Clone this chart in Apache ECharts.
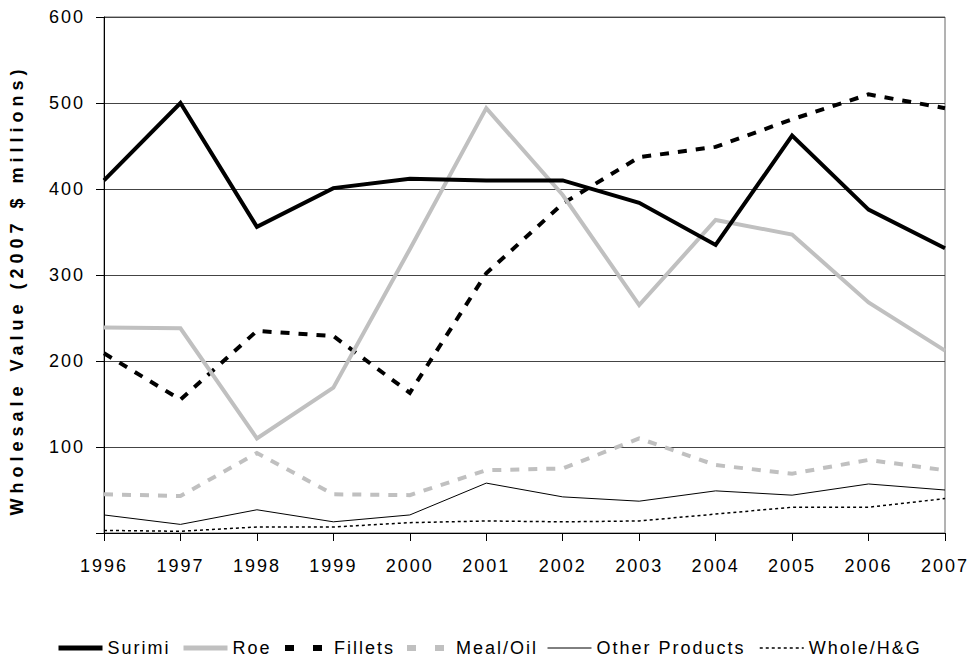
<!DOCTYPE html>
<html>
<head>
<meta charset="utf-8">
<title>Wholesale Value by Product</title>
<script src="https://cdn.jsdelivr.net/npm/echarts@6/dist/echarts.min.js"></script>
<style>
  html, body { margin: 0; padding: 0; background: #fff; }
  #chart { width: 972px; height: 659px; }
  /* spaced-out lettering for all chart text, wider for the bold axis title */
  #chart text { letter-spacing: 2px; }
  #chart text[style*="bold"] { letter-spacing: 5px; }
</style>
</head>
<body>
<div id="chart"></div>
<script>
// Years on the category axis
const years = ['1996', '1997', '1998', '1999', '2000', '2001', '2002', '2003', '2004', '2005', '2006', '2007'];

// Wholesale value by product form, 2007 $ millions
const surimi  = [410, 500, 356, 401, 412, 410, 410, 384, 335, 462, 376, 331];
const roe     = [239, 238, 110, 169, 330, 494, 393, 265, 364, 347, 268, 212];
const fillets = [209, 155, 235, 229, 163, 302, 383, 437, 449, 481, 510, 494];
const mealOil = [45, 43, 93, 45, 44, 73, 75, 110, 79, 69, 85, 73];
const other   = [21, 10, 27, 13, 21, 58, 42, 37, 49, 44, 57, 50];
const whole   = [3, 2, 7, 7, 12, 14, 13, 14, 22, 30, 30, 40];

// Value axis ticks
const yTicks = [0, 100, 200, 300, 400, 500, 600];

const FONT = "'Liberation Sans', Arial, sans-serif";
const GREY = '#c0c0c0';

// Line look for each product: colour, width, dash pattern, dash pattern in the key
const looks = {
  'Surimi':         { color: '#000', width: 4,   type: 'solid', key: 'solid',  keyWidth: 5 },
  'Roe':            { color: GREY,   width: 4,   type: 'solid', key: 'solid',  keyWidth: 5 },
  'Fillets':        { color: '#000', width: 4,   type: [9, 9],  key: [9, 19],  keyWidth: 6 },
  'Meal/Oil':       { color: GREY,   width: 4,   type: [9, 9],  key: [9, 19],  keyWidth: 6 },
  'Other Products': { color: '#000', width: 1,   type: 'solid', key: 'solid',  keyWidth: 1 },
  'Whole/H&G':      { color: '#000', width: 1.5, type: [3, 3],  key: [3, 3],   keyWidth: 1.5 }
};

const chart = echarts.init(document.getElementById('chart'), null, { renderer: 'svg' });

function lineSeries(name, data) {
  const s = looks[name];
  return {
    name: name,
    type: 'line',
    data: data,
    symbol: 'none',
    smooth: false,
    animation: false,
    lineStyle: { color: s.color, width: s.width, type: s.type, cap: 'butt', join: 'miter' },
    itemStyle: { color: s.color },
    emphasis: { disabled: true }
  };
}

// Drawn back to front: thin lines first, Surimi on top
const series = [
  lineSeries('Whole/H&G', whole),
  lineSeries('Other Products', other),
  lineSeries('Meal/Oil', mealOil),
  lineSeries('Fillets', fillets),
  lineSeries('Roe', roe),
  lineSeries('Surimi', surimi)
];

// One legend block per entry so each sits at its own spot along the bottom row
const legendSpots = [
  ['Surimi', 51], ['Roe', 176], ['Fillets', 277],
  ['Meal/Oil', 399], ['Other Products', 542], ['Whole/H&G', 754]
];
const legends = legendSpots.map(function (s) {
  const k = looks[s[0]];
  return {
    data: [s[0]],
    left: s[1],
    top: 634,
    orient: 'horizontal',
    itemWidth: 44,
    itemHeight: 16,
    itemGap: 0,
    selectedMode: false,
    itemStyle: { opacity: 0 },
    lineStyle: { color: k.color, width: k.keyWidth, type: k.key, cap: 'butt' },
    textStyle: { fontFamily: FONT, fontSize: 18, color: '#000' }
  };
});

chart.setOption({
  animation: false,
  backgroundColor: '#fff',
  legend: legends,
  grid: {
    left: 104, right: 27, top: 17, bottom: 126,
    show: true, borderColor: '#666', borderWidth: 1, backgroundColor: 'transparent'
  },
  xAxis: {
    type: 'category',
    data: years,
    boundaryGap: false,
    axisLine: { lineStyle: { color: '#000', width: 1 } },
    axisTick: { show: true, length: 8, inside: false, alignWithLabel: true, lineStyle: { color: '#000' } },
    axisLabel: { color: '#000', fontFamily: FONT, fontSize: 18, margin: 24 },
    splitLine: { show: false }
  },
  yAxis: {
    type: 'value',
    min: yTicks[0],
    max: yTicks[yTicks.length - 1],
    interval: 100,
    name: 'Wholesale Value (2007 $ millions)',
    nameLocation: 'middle',
    nameGap: 78,
    nameTextStyle: {
      fontFamily: FONT, fontSize: 18, fontWeight: 'bold', color: '#000',
      padding: [0, 30, 0, 0]
    },
    axisLine: { show: true, lineStyle: { color: '#000', width: 1 } },
    axisTick: { show: true, length: 8, lineStyle: { color: '#000' } },
    axisLabel: {
      color: '#000', fontFamily: FONT, fontSize: 18, margin: 19,
      formatter: function (v) { return v === 0 ? '' : String(v); }
    },
    splitLine: { show: true, lineStyle: { color: '#444', width: 1 } }
  },
  series: series
});
</script>
</body>
</html>
